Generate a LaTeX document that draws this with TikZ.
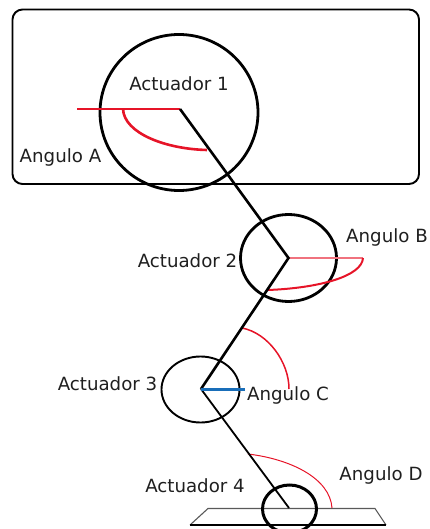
\documentclass[tikz,border=0pt]{standalone}
\usepackage{fontspec}
\setmainfont{DejaVu Sans}
\definecolor{redarc}{RGB}{230,20,40}
\definecolor{bluebar}{RGB}{25,110,185}
\tikzset{
  every picture/.style={x=1pt,y=-1pt},
  lbl/.style={inner sep=0pt,text=black!88,font=\fontsize{18.2}{20}\selectfont},
  link/.style={draw=black,line width=#1},
  ring/.style={draw=black,line width=#1},
  anglearc/.style={draw=redarc,line width=#1}
}
\begin{document}
\begin{tikzpicture}
\useasboundingbox (0,0) rectangle (429,529);
\begin{scope}
\clip (0,0) rectangle (429,529);
\coordinate (J1) at (180,109);
\coordinate (J2) at (288.5,258);
\coordinate (J3) at (201,389);
\coordinate (J4) at (289,508);
\draw[line width=1.9pt,rounded corners=10pt] (12.5,9.5) rectangle (419,184);
% platform
\draw[black!65,line width=1.1pt] (190,525) -- (208,508.5) -- (375,508.5) -- (386,525);
\draw[line width=2pt] (190,525) -- (386,525);
% actuators
\draw[ring=2.8pt] (179,112.5) ellipse [x radius=79, y radius=78];
\draw[ring=2.8pt] (288.5,258) ellipse [x radius=48, y radius=43.5];
\draw[ring=1.9pt] (200.5,389.5) ellipse [x radius=39, y radius=33];
\draw[ring=3pt] (289.5,509) ellipse [x radius=27, y radius=24];
% angle marks
\draw[anglearc=2.6pt] (77,109) -- (J1);
\draw[anglearc=2.6pt] (123,109) .. controls (124,133) and (165,149) .. (207,150);
\draw[draw=redarc!60,line width=1.4pt] (J2) -- (363,258);
\draw[anglearc=2pt] (363,258) .. controls (362,276) and (320,288) .. (268,290);
\draw[anglearc=1.5pt] (242,328) .. controls (268,333) and (289,362) .. (289,389);
\draw[anglearc=1pt] (248,454) .. controls (290,459) and (330,478) .. (332,508);
% links
\draw[link=2.6pt,line join=miter] (J1) -- (J2) -- (J3);
\draw[link=1.8pt] (J3) -- (J4);
\draw[bluebar,line width=3pt] (J3) -- (245,389);
% labels
\node[lbl] (t1) at (179,84) {Actuador 1};
\node[lbl] (t2) at (187.5,261) {Actuador 2};
\node[lbl] (t3) at (107.5,384) {Actuador 3};
\node[lbl] (t4) at (195,486) {Actuador 4};
\node[lbl] (a) at (60.5,157) {Angulo A};
\node[lbl] (b) at (387,237) {Angulo B};
\node[lbl] (c) at (288,395) {Angulo C};
\node[lbl] (d) at (381,475) {Angulo D};
\end{scope}
\end{tikzpicture}
\end{document}
